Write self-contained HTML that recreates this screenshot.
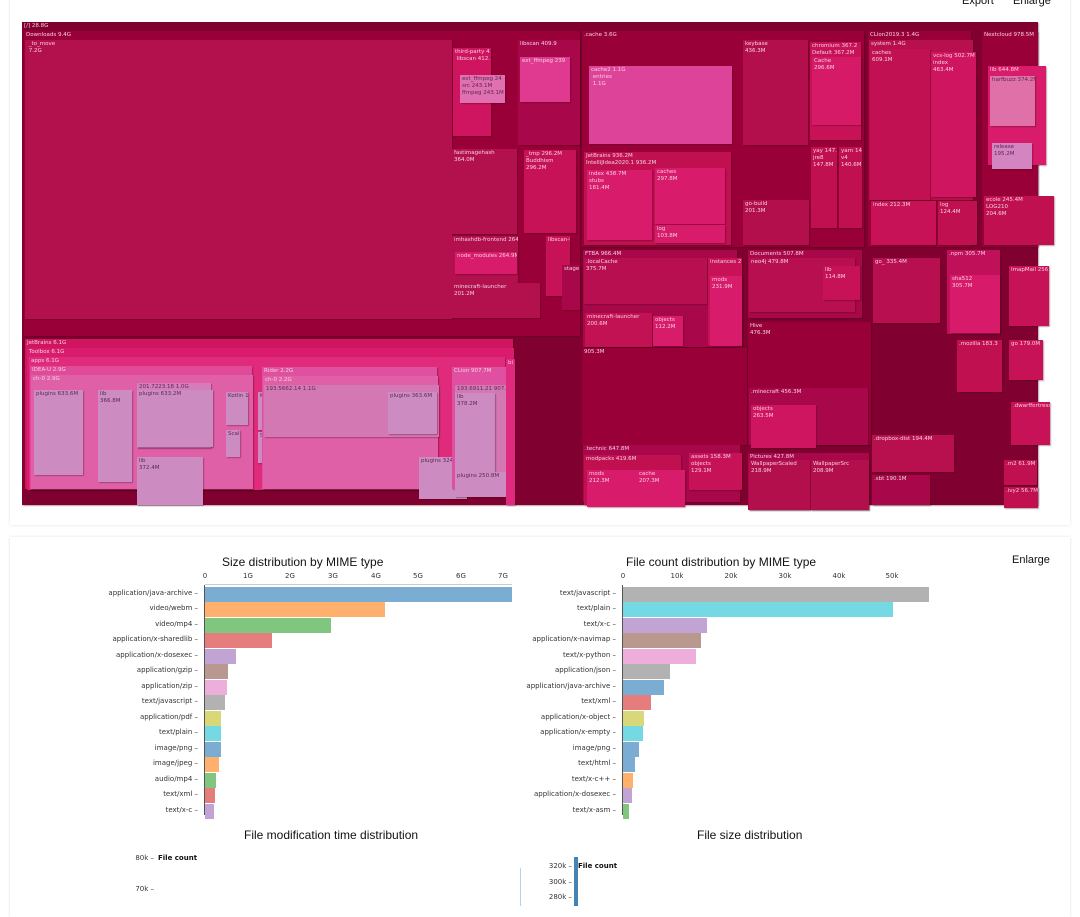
<!DOCTYPE html>
<html><head><meta charset="utf-8"><style>
body{margin:0;width:1080px;height:906px;background:#fff;position:relative;overflow:hidden;font-family:"DejaVu Sans","Liberation Sans",sans-serif}
.card{position:absolute;background:#fff;box-shadow:0 0 3px rgba(0,0,0,.12)}
.b{position:absolute;box-sizing:border-box;font-size:5.5px;line-height:7px;color:#f3d0e0;padding:1px 2px;overflow:hidden;white-space:pre;box-shadow:1px 1px 1px rgba(60,0,20,.35)}
.p{color:#5a2a50}
.t{position:absolute;font-family:"Liberation Sans",sans-serif;font-size:12px;color:#111;white-space:nowrap}
.lbl{position:absolute;font-size:7px;color:#333;text-align:right;width:190px;white-space:nowrap}
.bar{position:absolute;height:15px}
.tk{position:absolute;font-size:7px;color:#333;transform:translateX(-50%)}
</style></head><body>
<div class="card" style="left:10px;top:-5px;width:1060px;height:530px"></div>
<div class="card" style="left:10px;top:537px;width:1060px;height:380px"></div>
<div class="t" style="left:962px;top:-5px;font-size:11px">Export</div>
<div class="t" style="left:1013px;top:-5px;font-size:11px">Enlarge</div>

<!-- treemap -->
<div class="b" style="left:22px;top:22px;width:1016px;height:483px;background:#800030">[/] 28.8G</div>
<div class="b" style="left:24px;top:31px;width:556px;height:305px;background:#990038">Downloads 9.4G</div>
<div class="b" style="left:25px;top:40px;width:427px;height:279px;background:#b3104e"> _to_move
 7.2G</div>
<div class="b" style="left:453px;top:48px;width:38px;height:88px;background:#d01560">third-party 4
 libscan 412.</div>
<div class="b p" style="left:460px;top:75px;width:45px;height:28px;background:#e070b0">ext_ffmpeg 24
src 243.1M
ffmpeg 243.1M</div>
<div class="b" style="left:518px;top:40px;width:62px;height:105px;background:#a8084a">libscan 409.9</div>
<div class="b" style="left:520px;top:57px;width:50px;height:45px;background:#e03a90">ext_ffmpeg 239</div>
<div class="b" style="left:452px;top:149px;width:65px;height:85px;background:#b3104e">fastimagehash
364.0M</div>
<div class="b" style="left:524px;top:150px;width:52px;height:83px;background:#c81258">_tmp 296.2M
Buddhism
296.2M</div>
<div class="b" style="left:452px;top:236px;width:66px;height:47px;background:#b3104e">imhashdb-frontend 264.</div>
<div class="b" style="left:455px;top:252px;width:62px;height:22px;background:#d81b6a">node_modules 264.9M</div>
<div class="b" style="left:452px;top:283px;width:88px;height:35px;background:#b3104e">minecraft-launcher
201.2M</div>
<div class="b" style="left:546px;top:236px;width:24px;height:60px;background:#c81258">libscan-t</div>
<div class="b" style="left:562px;top:265px;width:18px;height:45px;background:#a8084a">stage</div>

<div class="b" style="left:25px;top:339px;width:488px;height:150px;background:#d01560">JetBrains 6.1G</div>
<div class="b" style="left:27px;top:348px;width:487px;height:142px;background:#da1c6c">Toolbox 6.1G</div>
<div class="b" style="left:29px;top:357px;width:476px;height:133px;background:#e02a7c">apps 6.1G</div>
<div class="b" style="left:30px;top:366px;width:222px;height:123px;background:#e04a98">IDEA-U 2.9G</div>
<div class="b" style="left:31px;top:375px;width:222px;height:114px;background:#e060a8">ch-0 2.9G</div>
<div class="b p" style="left:34px;top:390px;width:49px;height:85px;background:#cc8cc2">plugins 633.6M</div>
<div class="b p" style="left:98px;top:390px;width:34px;height:92px;background:#cc8cc2">lib
366.8M</div>
<div class="b p" style="left:137px;top:383px;width:74px;height:65px;background:#d47cbc">201.7223.18 1.0G</div>
<div class="b p" style="left:137px;top:390px;width:76px;height:57px;background:#cc8cc2">plugins 633.2M</div>
<div class="b p" style="left:137px;top:457px;width:66px;height:48px;background:#cc8cc2">lib
372.4M</div>
<div class="b p" style="left:226px;top:392px;width:22px;height:33px;background:#cc8cc2">Kotlin 1</div>
<div class="b p" style="left:258px;top:392px;width:20px;height:38px;background:#cc8cc2">Kotlin</div>
<div class="b p" style="left:226px;top:430px;width:14px;height:27px;background:#cc8cc2">Scal</div>
<div class="b p" style="left:258px;top:432px;width:13px;height:31px;background:#cc8cc2">Sca</div>
<div class="b" style="left:262px;top:367px;width:175px;height:122px;background:#e050a0">Rider 2.2G</div>
<div class="b" style="left:263px;top:376px;width:175px;height:113px;background:#e060a8">ch-0 2.2G</div>
<div class="b p" style="left:264px;top:385px;width:175px;height:52px;background:#d478b4">193.5662.14 1.1G</div>
<div class="b p" style="left:388px;top:392px;width:49px;height:42px;background:#cc8cc2">plugins 363.6M</div>
<div class="b p" style="left:419px;top:457px;width:48px;height:42px;background:#cc8cc2">plugins 324.8M</div>
<div class="b" style="left:452px;top:367px;width:56px;height:122px;background:#e050a0">CLion 907.7M</div>
<div class="b p" style="left:455px;top:385px;width:54px;height:110px;background:#d478b4">193.6911.21 907.7M</div>
<div class="b p" style="left:455px;top:393px;width:40px;height:80px;background:#cc8cc2">lib
378.2M</div>
<div class="b p" style="left:455px;top:472px;width:53px;height:25px;background:#cc8cc2">plugins 250.8M</div>
<div class="b" style="left:506px;top:359px;width:9px;height:146px;background:#e02a80">bi</div>

<div class="b" style="left:582px;top:31px;width:282px;height:216px;background:#990038">.cache 3.6G</div>
<div class="b" style="left:589px;top:66px;width:143px;height:78px;background:#dd4499">cache2 1.1G
 entries
 1.1G</div>
<div class="b" style="left:743px;top:40px;width:65px;height:105px;background:#b30f4c">keybase
436.3M</div>
<div class="b" style="left:810px;top:42px;width:51px;height:98px;background:#c81258">chromium 367.2
Default 367.2M</div>
<div class="b" style="left:812px;top:57px;width:49px;height:68px;background:#d71a68">Cache
296.6M</div>
<div class="b" style="left:584px;top:152px;width:147px;height:93px;background:#c01050">JetBrains 936.2M
IntelliJIdea2020.1 936.2M</div>
<div class="b" style="left:587px;top:170px;width:65px;height:70px;background:#d81b6a">index 438.7M
stubs
181.4M</div>
<div class="b" style="left:655px;top:168px;width:70px;height:56px;background:#d81b6a">caches
297.8M</div>
<div class="b" style="left:655px;top:225px;width:70px;height:18px;background:#d81b6a">log
103.8M</div>
<div class="b" style="left:743px;top:200px;width:66px;height:45px;background:#b30f4c">go-build
201.3M</div>
<div class="b" style="left:811px;top:147px;width:26px;height:81px;background:#c01050">yay 147.
jre8
147.8M</div>
<div class="b" style="left:839px;top:147px;width:23px;height:81px;background:#c01050">yarn 14
v4
140.6M</div>
<div class="b" style="left:868px;top:31px;width:103px;height:216px;background:#990038">CLion2019.3 1.4G</div>
<div class="b" style="left:869px;top:40px;width:104px;height:160px;background:#b8104e">system 1.4G</div>
<div class="b" style="left:870px;top:49px;width:60px;height:151px;background:#c21152">caches
609.1M</div>
<div class="b" style="left:931px;top:52px;width:45px;height:145px;background:#d01560">vcs-log 502.7M
index
463.4M</div>
<div class="b" style="left:871px;top:201px;width:65px;height:44px;background:#c81258">index 212.3M</div>
<div class="b" style="left:938px;top:201px;width:39px;height:44px;background:#c01050">log
124.4M</div>
<div class="b" style="left:982px;top:31px;width:56px;height:216px;background:#990038">Nextcloud 978.5M</div>
<div class="b" style="left:988px;top:66px;width:58px;height:99px;background:#d81b6a">lib 644.8M</div>
<div class="b p" style="left:990px;top:76px;width:45px;height:50px;background:#e070a8">harfbuzz 374.2M</div>
<div class="b p" style="left:992px;top:143px;width:40px;height:26px;background:#d484c0">release
195.2M</div>
<div class="b" style="left:984px;top:196px;width:70px;height:49px;background:#c01050">ecole 245.4M
LOG210
204.6M</div>

<div class="b" style="left:583px;top:250px;width:154px;height:97px;background:#a8084a">FTBA 966.4M</div>
<div class="b" style="left:584px;top:258px;width:123px;height:46px;background:#b80f50">.localCache
375.7M</div>
<div class="b" style="left:585px;top:313px;width:67px;height:34px;background:#c31253">minecraft-launcher
200.6M</div>
<div class="b" style="left:653px;top:316px;width:30px;height:30px;background:#d81b6a">objects
112.2M</div>
<div class="b" style="left:708px;top:258px;width:34px;height:87px;background:#c81258">instances 2</div>
<div class="b" style="left:710px;top:276px;width:32px;height:70px;background:#d81b6a">mods
231.9M</div>
<div class="b" style="left:748px;top:250px;width:114px;height:68px;background:#a8084a">Documents 507.8M</div>
<div class="b" style="left:749px;top:258px;width:106px;height:54px;background:#b80f50">neo4j 479.8M</div>
<div class="b" style="left:823px;top:266px;width:37px;height:34px;background:#c81258">lib
114.8M</div>
<div class="b" style="left:873px;top:258px;width:67px;height:65px;background:#b80f50">go_ 335.4M</div>
<div class="b" style="left:947px;top:250px;width:53px;height:84px;background:#c0105a">.npm 305.7M</div>
<div class="b" style="left:950px;top:275px;width:50px;height:58px;background:#d81a6a">sha512
305.7M</div>
<div class="b" style="left:1009px;top:266px;width:40px;height:60px;background:#c81258">ImapMail 256</div>
<div class="b" style="left:582px;top:348px;width:165px;height:97px;background:#990038">905.3M</div>
<div class="b" style="left:748px;top:322px;width:123px;height:123px;background:#990038">Hive
476.3M</div>
<div class="b" style="left:749px;top:388px;width:119px;height:57px;background:#a8084a">.minecraft 456.3M</div>
<div class="b" style="left:751px;top:405px;width:65px;height:43px;background:#d01560">objects
263.5M</div>
<div class="b" style="left:583px;top:445px;width:157px;height:57px;background:#a8084a">.technic 647.8M</div>
<div class="b" style="left:584px;top:455px;width:97px;height:50px;background:#c01050">modpacks 419.6M</div>
<div class="b" style="left:587px;top:470px;width:50px;height:37px;background:#d81b6a">mods
212.3M</div>
<div class="b" style="left:637px;top:470px;width:48px;height:37px;background:#d81b6a">cache
207.3M</div>
<div class="b" style="left:689px;top:453px;width:53px;height:37px;background:#c81258">assets 158.3M
objects
129.1M</div>
<div class="b" style="left:748px;top:453px;width:121px;height:57px;background:#a8084a">Pictures 427.8M</div>
<div class="b" style="left:749px;top:460px;width:61px;height:50px;background:#b30f4c">WallpaperScaled
218.9M</div>
<div class="b" style="left:811px;top:460px;width:58px;height:50px;background:#b30f4c">WallpaperSrc
208.9M</div>
<div class="b" style="left:872px;top:435px;width:82px;height:37px;background:#b8104e">.dropbox-dist 194.4M</div>
<div class="b" style="left:872px;top:475px;width:58px;height:30px;background:#a8084a">.sbt 190.1M</div>
<div class="b" style="left:957px;top:340px;width:45px;height:52px;background:#c01050">.mozilla 183.3</div>
<div class="b" style="left:1009px;top:340px;width:34px;height:40px;background:#c81258">go 179.0M</div>
<div class="b" style="left:1011px;top:402px;width:39px;height:43px;background:#c81258">.dwarffortress</div>
<div class="b" style="left:1004px;top:460px;width:33px;height:25px;background:#c01050">.m2 61.9M</div>
<div class="b" style="left:1004px;top:487px;width:34px;height:21px;background:#c01050">.ivy2 56.7M</div>

<!-- left bar chart -->
<div class="t" style="left:222px;top:555px">Size distribution by MIME type</div>
<div style="position:absolute;left:204px;top:585px;width:1px;height:230px;background:#555"></div>
<div style="position:absolute;left:205px;top:584px;width:307px;height:1px;background:#ccc"></div>
<div class="tk" style="left:205px;top:572px">0</div><div class="tk" style="left:248px;top:572px">1G</div><div class="tk" style="left:290px;top:572px">2G</div><div class="tk" style="left:333px;top:572px">3G</div><div class="tk" style="left:376px;top:572px">4G</div><div class="tk" style="left:418px;top:572px">5G</div><div class="tk" style="left:461px;top:572px">6G</div><div class="tk" style="left:503px;top:572px">7G</div>
<div class="bar" style="left:205px;top:587px;width:307px;background:#7badd3"></div>
<div class="bar" style="left:205px;top:602px;width:180px;background:#ffb06c"></div>
<div class="bar" style="left:205px;top:618px;width:126px;background:#80c67f"></div>
<div class="bar" style="left:205px;top:633px;width:67px;background:#e57d7d"></div>
<div class="bar" style="left:205px;top:649px;width:31px;background:#c1a3d4"></div>
<div class="bar" style="left:205px;top:664px;width:23px;background:#b99890"></div>
<div class="bar" style="left:205px;top:680px;width:22px;background:#eeaedb"></div>
<div class="bar" style="left:205px;top:695px;width:20px;background:#b2b2b2"></div>
<div class="bar" style="left:205px;top:711px;width:16px;background:#d8d77a"></div>
<div class="bar" style="left:205px;top:726px;width:16px;background:#74d9e2"></div>
<div class="bar" style="left:205px;top:742px;width:16px;background:#7badd3"></div>
<div class="bar" style="left:205px;top:757px;width:14px;background:#ffb06c"></div>
<div class="bar" style="left:205px;top:773px;width:11px;background:#80c67f"></div>
<div class="bar" style="left:205px;top:788px;width:10px;background:#e57d7d"></div>
<div class="bar" style="left:205px;top:804px;width:9px;background:#c1a3d4"></div>
<div class="lbl" style="left:8px;top:589px">application/java-archive –</div>
<div class="lbl" style="left:8px;top:604px">video/webm –</div>
<div class="lbl" style="left:8px;top:620px">video/mp4 –</div>
<div class="lbl" style="left:8px;top:635px">application/x-sharedlib –</div>
<div class="lbl" style="left:8px;top:651px">application/x-dosexec –</div>
<div class="lbl" style="left:8px;top:666px">application/gzip –</div>
<div class="lbl" style="left:8px;top:682px">application/zip –</div>
<div class="lbl" style="left:8px;top:697px">text/javascript –</div>
<div class="lbl" style="left:8px;top:713px">application/pdf –</div>
<div class="lbl" style="left:8px;top:728px">text/plain –</div>
<div class="lbl" style="left:8px;top:744px">image/png –</div>
<div class="lbl" style="left:8px;top:759px">image/jpeg –</div>
<div class="lbl" style="left:8px;top:775px">audio/mp4 –</div>
<div class="lbl" style="left:8px;top:790px">text/xml –</div>
<div class="lbl" style="left:8px;top:806px">text/x-c –</div>

<!-- right bar chart -->
<div class="t" style="left:626px;top:555px">File count distribution by MIME type</div>
<div class="t" style="left:1012px;top:554px;font-size:11px">Enlarge</div>
<div style="position:absolute;left:622px;top:585px;width:1px;height:230px;background:#555"></div>
<div class="tk" style="left:623px;top:572px">0</div><div class="tk" style="left:677px;top:572px">10k</div><div class="tk" style="left:731px;top:572px">20k</div><div class="tk" style="left:785px;top:572px">30k</div><div class="tk" style="left:839px;top:572px">40k</div><div class="tk" style="left:892px;top:572px">50k</div>
<div class="bar" style="left:623px;top:587px;width:306px;background:#b2b2b2"></div>
<div class="bar" style="left:623px;top:602px;width:270px;background:#74d9e2"></div>
<div class="bar" style="left:623px;top:618px;width:84px;background:#c1a3d4"></div>
<div class="bar" style="left:623px;top:633px;width:78px;background:#b99890"></div>
<div class="bar" style="left:623px;top:649px;width:73px;background:#eeaedb"></div>
<div class="bar" style="left:623px;top:664px;width:47px;background:#b2b2b2"></div>
<div class="bar" style="left:623px;top:680px;width:41px;background:#7badd3"></div>
<div class="bar" style="left:623px;top:695px;width:28px;background:#e57d7d"></div>
<div class="bar" style="left:623px;top:711px;width:21px;background:#d8d77a"></div>
<div class="bar" style="left:623px;top:726px;width:20px;background:#74d9e2"></div>
<div class="bar" style="left:623px;top:742px;width:16px;background:#7badd3"></div>
<div class="bar" style="left:623px;top:757px;width:12px;background:#7badd3"></div>
<div class="bar" style="left:623px;top:773px;width:10px;background:#ffb06c"></div>
<div class="bar" style="left:623px;top:788px;width:9px;background:#c1a3d4"></div>
<div class="bar" style="left:623px;top:804px;width:6px;background:#80c67f"></div>
<div class="lbl" style="left:426px;top:589px">text/javascript –</div>
<div class="lbl" style="left:426px;top:604px">text/plain –</div>
<div class="lbl" style="left:426px;top:620px">text/x-c –</div>
<div class="lbl" style="left:426px;top:635px">application/x-navimap –</div>
<div class="lbl" style="left:426px;top:651px">text/x-python –</div>
<div class="lbl" style="left:426px;top:666px">application/json –</div>
<div class="lbl" style="left:426px;top:682px">application/java-archive –</div>
<div class="lbl" style="left:426px;top:697px">text/xml –</div>
<div class="lbl" style="left:426px;top:713px">application/x-object –</div>
<div class="lbl" style="left:426px;top:728px">application/x-empty –</div>
<div class="lbl" style="left:426px;top:744px">image/png –</div>
<div class="lbl" style="left:426px;top:759px">text/html –</div>
<div class="lbl" style="left:426px;top:775px">text/x-c++ –</div>
<div class="lbl" style="left:426px;top:790px">application/x-dosexec –</div>
<div class="lbl" style="left:426px;top:806px">text/x-asm –</div>

<!-- bottom charts -->
<div class="t" style="left:244px;top:828px">File modification time distribution</div>
<div class="lbl" style="left:-36px;top:854px;width:190px">80k –</div>
<div style="position:absolute;left:158px;top:854px;font-size:7px;font-weight:bold;color:#111">File count</div>
<div class="lbl" style="left:-36px;top:885px;width:190px">70k –</div>
<div style="position:absolute;left:520px;top:868px;width:1px;height:38px;background:#b8d0e8"></div>
<div class="t" style="left:697px;top:828px">File size distribution</div>
<div style="position:absolute;left:574px;top:857px;width:4px;height:49px;background:#4682b4"></div>
<div class="lbl" style="left:382px;top:862px">320k –</div>
<div style="position:absolute;left:578px;top:862px;font-size:7px;font-weight:bold;color:#111">File count</div>
<div class="lbl" style="left:382px;top:878px">300k –</div>
<div class="lbl" style="left:382px;top:893px">280k –</div>
</body></html>
